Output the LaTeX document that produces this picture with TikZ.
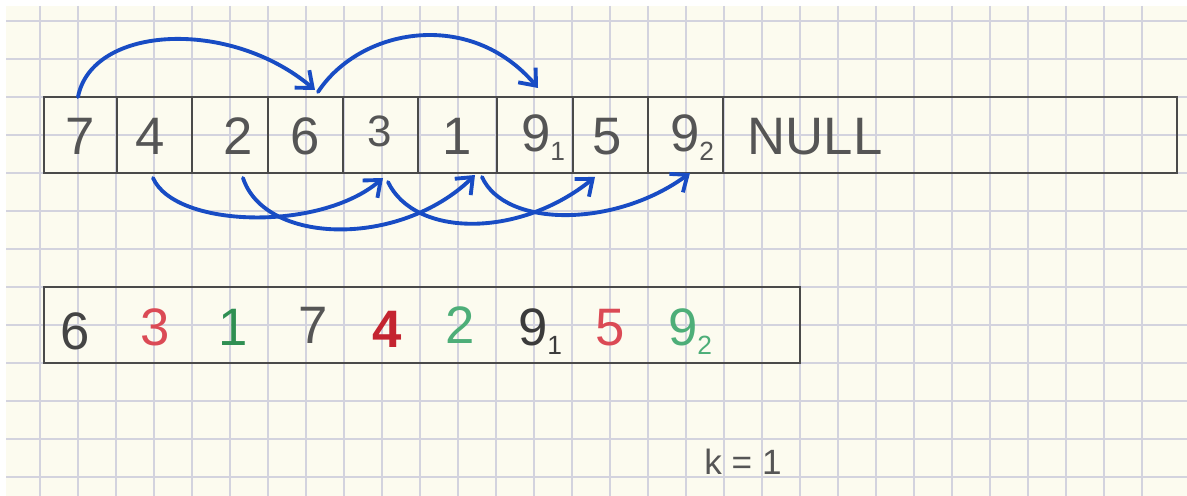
\documentclass[tikz,border=0pt]{standalone}
\usepackage{fontspec}
\setmainfont{Liberation Sans}
\usetikzlibrary{arrows.meta}
\definecolor{paper}{HTML}{FCFBEF}
\definecolor{gridc}{HTML}{D3D3DE}
\definecolor{ink}{HTML}{555555}
\definecolor{boxink}{HTML}{4A4A4A}
\definecolor{blueink}{HTML}{184CC4}
\definecolor{redink}{HTML}{DB4A55}
\definecolor{darkred}{HTML}{C42430}
\definecolor{greenink}{HTML}{2F8F52}
\definecolor{lgreen}{HTML}{4DAE78}
\newcommand{\subd}[1]{{\fontsize{15}{15}\selectfont\raisebox{-5pt}{#1}}}
\begin{document}
\begin{tikzpicture}[x=0.02cm,y=-0.02cm,
  boxline/.style={draw=boxink, line width=1.3pt},
  gridline/.style={draw=gridc, line width=0.8pt},
  digit/.style={text=ink, font=\fontsize{30}{30}\selectfont, inner sep=0pt, anchor=base},
  small/.style={font=\fontsize{20}{20}\selectfont},
  barrow/.style={draw=blueink, line width=2.2pt, line cap=round,
    -{Straight Barb[length=8pt,width=13pt,line width=2.2pt]}}
]
\useasboundingbox (0,0) rectangle (1187,496);
\fill[white] (0,0) rectangle (1187,496);
\fill[paper] (6,6) rectangle (1187,496);
% grid
\foreach \i in {1,...,30} \draw[gridline] ({2+38*\i},6) -- ({2+38*\i},496);
\foreach \j in {0,...,12} \draw[gridline] (6,{21+38*\j}) -- (1187,{21+38*\j});
% list box
\draw[boxline] (44,97) rectangle (1177,173);
\foreach \x in {117,192,268,343,418,497,573,648,723} \draw[boxline] (\x,97) -- (\x,173);
% array box
\draw[boxline] (44,287) rectangle (800,363);
% top row texts
\node[digit] (t7) at (80,155) {7};
\node[digit] (t4) at (150,155) {4};
\node[digit] (t2) at (238,155) {2};
\node[digit] (t6) at (305,155) {6};
\node[digit, font=\fontsize{25}{25}\selectfont] (t3) at (380,147) {3};
\node[digit] (t1) at (457,155) {1};
\node[digit] (t91) at (543,152) {9\subd{1}};
\node[digit] (t5) at (607,155) {5};
\node[digit] (t92) at (692,152) {9\subd{2}};
\node[digit] (tnull) at (815,155) {NULL};
% bottom row texts
\node[digit, text=ink!80!black] (b6) at (75,350) {6};
\node[digit, text=redink] (b3) at (155,346) {3};
\node[digit, text=greenink] (b1) at (233,346) {1};
\node[digit] (b7) at (313,344) {7};
\node[digit, text=darkred, font=\bfseries\fontsize{30}{30}\selectfont] (b4) at (387,348) {4};
\node[digit, text=lgreen] (b2) at (460,344) {2};
\node[digit, text=ink!70!black] (b91) at (540,346) {9\subd{1}};
\node[digit, text=redink] (b5) at (610,346) {5};
\node[digit, text=lgreen] (b92) at (690,346) {9\subd{2}};
% k = 1
\node[text=ink, small, inner sep=0pt] (k) at (743,462) {k = 1};
% arrow anchors
\coordinate (a7) at (78,97);
\coordinate (a6in) at (315,90);
\coordinate (a6out) at (318,92);
\coordinate (a91in) at (538,88);
\coordinate (a4) at (153,178);
\coordinate (a3in) at (383,178);
\coordinate (a2) at (243,178);
\coordinate (a1in) at (475,175);
\coordinate (a3out) at (388,182);
\coordinate (a5in) at (595,177);
\coordinate (a1out) at (482,177);
\coordinate (a92in) at (690,173);
% arrows
\draw[barrow] (a7) .. controls (92,25) and (230,18) .. (a6in);
\draw[barrow] (a6out) .. controls (360,28) and (470,8) .. (a91in);
\draw[barrow] (a4) .. controls (175,228) and (320,232) .. (a3in);
\draw[barrow] (a2) .. controls (265,245) and (400,248) .. (a1in);
\draw[barrow] (a3out) .. controls (415,238) and (520,238) .. (a5in);
\draw[barrow] (a1out) .. controls (505,228) and (615,228) .. (a92in);
\end{tikzpicture}
\end{document}
